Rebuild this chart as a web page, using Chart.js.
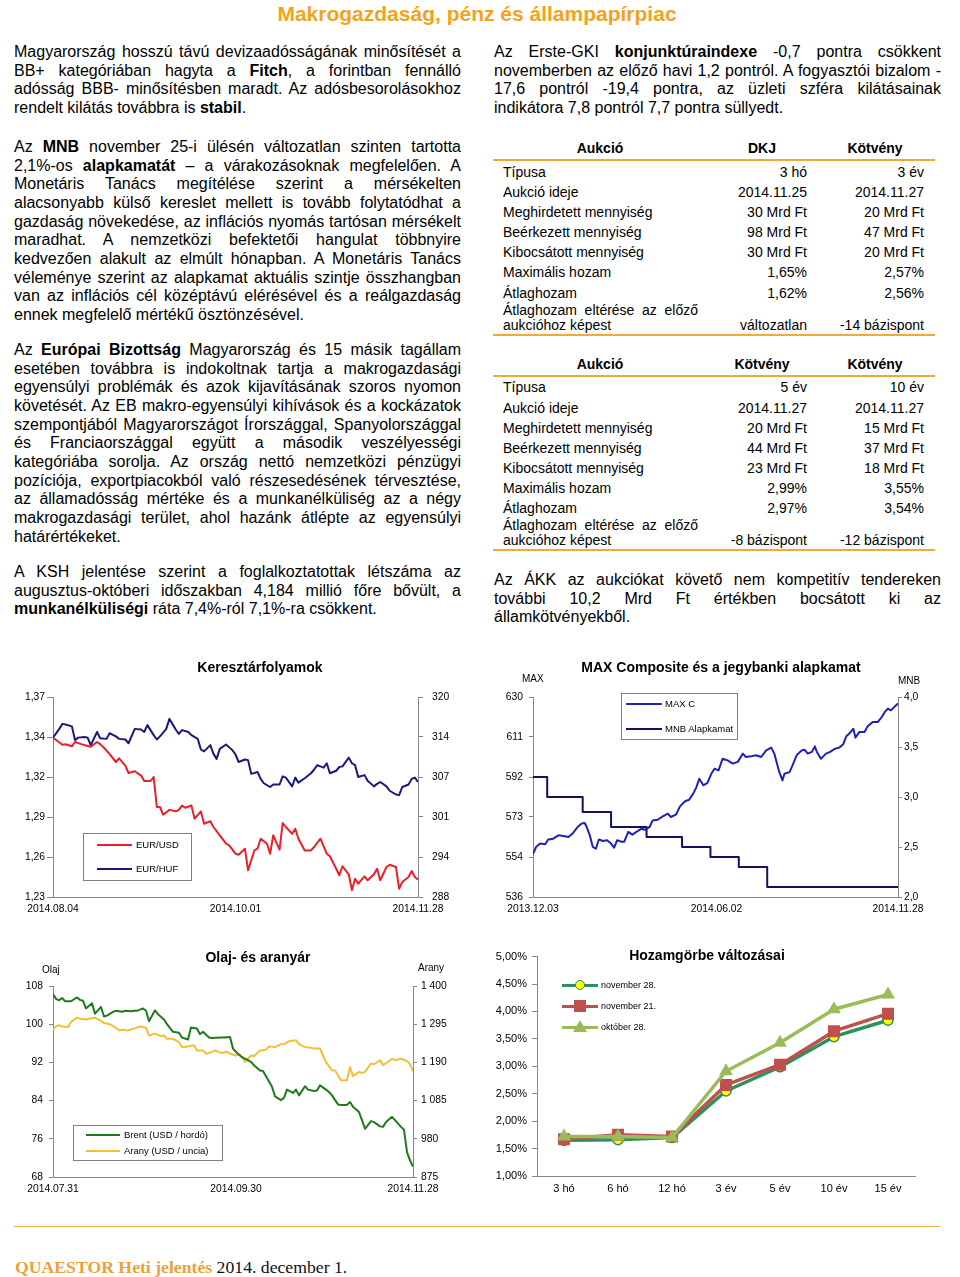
<!DOCTYPE html>
<html lang="hu">
<head>
<meta charset="utf-8">
<title>Makrogazdaság, pénz és állampapírpiac</title>
<script src="https://cdn.jsdelivr.net/npm/chart.js"></script>
<style>
  html, body { margin: 0; padding: 0; background: #fff; }
  #page { position: relative; width: 960px; height: 1277px; overflow: hidden;
          font-family: "Liberation Sans", Arial, sans-serif; color: #000; }
  .abs { position: absolute; }
  .head { left: 0; width: 954px; top: 2px; text-align: center; font-weight: bold;
          font-size: 21px; line-height: 24px; color: #f2a31b; }
  .p { position: absolute; width: 447px; font-size: 16px; line-height: 18.67px; }
  .p div { white-space: nowrap; text-align: justify; text-align-last: justify; }
  .p div.e { text-align-last: left; }
  .cell { position: absolute; font-size: 14px; line-height: 20px; white-space: nowrap; }
  .rule { position: absolute; left: 493px; width: 442px; height: 2px; background: #f1a937; }
  .ctitle { position: absolute; width: 320px; text-align: center; font-weight: bold;
            font-size: 14px; line-height: 17px; white-space: nowrap; }
  .small { position: absolute; font-size: 10px; line-height: 12px; white-space: nowrap; }
  .lbox { position: absolute; border: 1px solid #7f7f7f; box-sizing: border-box; }
  canvas { position: absolute; }
  .foot { position: absolute; left: 15px; top: 1257px; font-family: "Liberation Serif", "Times New Roman", serif;
          font-size: 17.7px; line-height: 20px; white-space: nowrap; color: #111; }
</style>
</head>
<body>
<div id="page">
  <div class="abs head">Makrogazdaság, pénz és állampapírpiac</div>

  <div class="p" style="left:14px; top:43px;">
    <div>Magyarország hosszú távú devizaadósságának minősítését a</div>
    <div>BB+ kategóriában hagyta a <b>Fitch</b>, a forintban fennálló</div>
    <div>adósság BBB- minősítésben maradt. Az adósbesorolásokhoz</div>
    <div class="e">rendelt kilátás továbbra is <b>stabil</b>.</div>
  </div>

  <div class="p" style="left:14px; top:138px;">
    <div>Az <b>MNB</b> november 25-i ülésén változatlan szinten tartotta</div>
    <div>2,1%-os <b>alapkamatát</b> – a várakozásoknak megfelelően. A</div>
    <div>Monetáris Tanács megítélése szerint a mérsékelten</div>
    <div>alacsonyabb külső kereslet mellett is tovább folytatódhat a</div>
    <div>gazdaság növekedése, az inflációs nyomás tartósan mérsékelt</div>
    <div>maradhat. A nemzetközi befektetői hangulat többnyire</div>
    <div>kedvezően alakult az elmúlt hónapban. A Monetáris Tanács</div>
    <div>véleménye szerint az alapkamat aktuális szintje összhangban</div>
    <div>van az inflációs cél középtávú elérésével és a reálgazdaság</div>
    <div class="e">ennek megfelelő mértékű ösztönzésével.</div>
  </div>

  <div class="p" style="left:14px; top:341px;">
    <div>Az <b>Európai Bizottság</b> Magyarország és 15 másik tagállam</div>
    <div>esetében továbbra is indokoltnak tartja a makrogazdasági</div>
    <div>egyensúlyi problémák és azok kijavításának szoros nyomon</div>
    <div>követését. Az EB makro-egyensúlyi kihívások és a kockázatok</div>
    <div>szempontjából Magyarországot Írországgal, Spanyolországgal</div>
    <div>és Franciaországgal együtt a második veszélyességi</div>
    <div>kategóriába sorolja. Az ország nettó nemzetközi pénzügyi</div>
    <div>pozíciója, exportpiacokból való részesedésének térvesztése,</div>
    <div>az államadósság mértéke és a munkanélküliség az a négy</div>
    <div>makrogazdasági terület, ahol hazánk átlépte az egyensúlyi</div>
    <div class="e">határértékeket.</div>
  </div>

  <div class="p" style="left:14px; top:563px;">
    <div>A KSH jelentése szerint a foglalkoztatottak létszáma az</div>
    <div>augusztus-októberi időszakban 4,184 millió főre bővült, a</div>
    <div class="e"><b>munkanélküliségi</b> ráta 7,4%-ról 7,1%-ra csökkent.</div>
  </div>

  <div class="p" style="left:494px; top:43px;">
    <div>Az Erste-GKI <b>konjunktúraindexe</b> -0,7 pontra csökkent</div>
    <div>novemberben az előző havi 1,2 pontról. A fogyasztói bizalom -</div>
    <div>17,6 pontról -19,4 pontra, az üzleti szféra kilátásainak</div>
    <div class="e">indikátora 7,8 pontról 7,7 pontra süllyedt.</div>
  </div>

  <div class="p" style="left:494px; top:571px;">
    <div>Az ÁKK az aukciókat követő nem kompetitív tendereken</div>
    <div>további 10,2 Mrd Ft értékben bocsátott ki az</div>
    <div class="e">államkötvényekből.</div>
  </div>

  <canvas id="c1" width="470" height="270" style="left:0; top:655px;"></canvas>
  <canvas id="c2" width="470" height="270" style="left:480px; top:655px;"></canvas>
  <canvas id="c3" width="470" height="260" style="left:0; top:945px;"></canvas>
  <canvas id="c4" width="470" height="260" style="left:480px; top:945px;"></canvas>

  <div class="abs" style="left:14px; top:1226px; width:926px; height:0; border-top:1.5px solid #f2b24a;"></div>
  <div class="foot"><b style="color:#e9a23b;">QUAESTOR Heti jelentés</b> 2014. december 1.</div>
</div>

<script>
// Aukciós táblák
const auction1Cols = ['Aukció', 'DKJ', 'Kötvény'];
const auction1Rows = [
    ['Típusa', '3 hó', '3 év'],
    ['Aukció ideje', '2014.11.25', '2014.11.27'],
    ['Meghirdetett mennyiség', '30 Mrd Ft', '20 Mrd Ft'],
    ['Beérkezett mennyiség', '98 Mrd Ft', '47 Mrd Ft'],
    ['Kibocsátott mennyiség', '30 Mrd Ft', '20 Mrd Ft'],
    ['Maximális hozam', '1,65%', '2,57%'],
    ['Átlaghozam', '1,62%', '2,56%'],
    ['Átlaghozam eltérése az előző|aukcióhoz képest', 'változatlan', '-14 bázispont']
];
const auction2Cols = ['Aukció', 'Kötvény', 'Kötvény'];
const auction2Rows = [
    ['Típusa', '5 év', '10 év'],
    ['Aukció ideje', '2014.11.27', '2014.11.27'],
    ['Meghirdetett mennyiség', '20 Mrd Ft', '15 Mrd Ft'],
    ['Beérkezett mennyiség', '44 Mrd Ft', '37 Mrd Ft'],
    ['Kibocsátott mennyiség', '23 Mrd Ft', '18 Mrd Ft'],
    ['Maximális hozam', '2,99%', '3,55%'],
    ['Átlaghozam', '2,97%', '3,54%'],
    ['Átlaghozam eltérése az előző|aukcióhoz képest', '-8 bázispont', '-12 bázispont']
];

// Keresztárfolyamok (napok 2014.08.04-től)
const fxTickDays = [0, 58, 116];
const fxTickLabels = ['2014.08.04', '2014.10.01', '2014.11.28'];
const usdTickValues = [1.232, 1.26, 1.288, 1.316, 1.344, 1.372];
const usdTickLabels = ['1,23', '1,26', '1,29', '1,32', '1,34', '1,37'];
const hufTickValues = [288, 294.4, 300.8, 307.2, 313.6, 320];
const hufTickLabels = ['288', '294', '301', '307', '314', '320'];
const eurUsdDays = [0,3,4,6,7,9,11,12,14,15,16,18,20,21,23,24,26,28,29,31,32,33,34,35,37,39,40,41,42,44,
    45,47,48,50,51,53,55,56,58,59,61,62,64,65,66,68,69,70,72,73,74,76,77,78,80,82,83,85,87,88,
    90,91,92,94,95,96,97,99,100,102,103,104,106,107,109,110,111,113,114,115,116];
const eurUsd = [1.3435,1.3386,1.3389,1.3375,1.3405,1.3390,1.3377,1.3372,1.3405,1.3390,
    1.3370,1.3320,1.3265,1.3290,1.3240,1.3188,1.3200,1.3170,1.3132,1.3132,
    1.3160,1.2950,1.2950,1.2896,1.2930,1.2920,1.2930,1.2960,1.2945,1.2960,
    1.2868,1.2920,1.2833,1.2850,1.2810,1.2752,1.2693,1.2682,1.2623,1.2616,
    1.2658,1.2507,1.2646,1.2658,1.2728,1.2693,1.2623,1.2752,1.2651,1.2838,
    1.2810,1.2763,1.2798,1.2728,1.2646,1.2646,1.2670,1.2728,1.2623,1.2605,
    1.2518,1.2472,1.2535,1.2479,1.2367,1.2448,1.2413,1.2465,1.2437,1.2479,
    1.2518,1.2437,1.2530,1.2546,1.2530,1.2378,1.2425,1.2460,1.2502,1.2460,1.2441];
const eurHufDays = [0,2,3,4,6,7,8,10,11,12,14,15,17,18,20,21,23,24,26,28,
    29,30,32,33,34,36,37,39,40,41,43,44,46,47,48,50,51,52,53,55,
    57,58,59,61,62,63,65,66,67,69,70,72,73,74,76,77,78,80,82,83,
    84,86,87,88,90,91,92,94,95,96,97,99,100,102,103,104,106,107,109,110,
    111,113,114,115,116];
const eurHuf = [313.5,314.9,315.7,315.6,315.3,313.1,313.5,313.6,313.5,312.3,
    314.4,313.4,313.3,314.2,313.7,313.3,313.2,312.6,314.9,314.8,
    314.4,315.5,313.9,313.2,313.7,314.9,316.5,314.8,314.1,314.7,
    314.4,313.9,313.3,311.6,311.3,312.3,310.9,310.1,311.7,312.4,
    311.5,310.8,309.6,310.0,309.9,307.7,308.0,306.9,306.2,305.6,
    306.0,306.0,307.3,307.1,305.7,307.1,306.3,307.0,307.8,308.4,
    309.1,308.7,309.4,307.8,308.2,308.8,308.9,310.3,309.4,309.1,
    307.2,307.5,306.6,305.7,306.1,306.4,305.7,305.0,304.4,304.3,
    305.6,306.0,306.9,307.1,306.4];

// MAX Composite és alapkamat (napok 2013.12.03-tól)
const maxTickDays = [0, 181, 360];
const maxTickLabels = ['2013.12.03', '2014.06.02', '2014.11.28'];
const maxTickValues = [536, 554.8, 573.6, 592.4, 611.2, 630];
const maxTickLabelsY = ['536', '554', '573', '592', '611', '630'];
const rateTickValues = [2.0, 2.5, 3.0, 3.5, 4.0];
const rateTickLabels = ['2,0', '2,5', '3,0', '3,5', '4,0'];
const maxDays = [0,3,7,12,15,20,25,30,35,39,44,48,51,53,56,59,62,65,69,73,
    77,80,83,87,90,94,98,102,107,110,115,118,123,128,133,136,141,145,150,154,
    158,161,164,168,172,176,179,183,187,192,197,202,207,210,215,220,225,230,235,238,
    242,243,246,248,253,256,260,265,268,271,275,278,280,284,289,293,298,302,306,309,
    312,316,318,322,327,330,335,340,344,347,350,353,357,360];
const maxC = [556.1,559.5,561.1,560.8,563.0,563.4,565.0,564.7,564.2,565.8,
    568.9,570.5,570.8,568.9,565.0,559.5,558.7,563.0,562.3,562.7,
    561.1,559.2,562.7,562.0,562.0,566.6,565.3,566.6,568.1,567.6,
    568.9,572.0,572.3,573.9,575.2,573.6,574.7,578.6,581.0,581.7,
    584.6,587.4,591.6,588.5,589.6,594.0,596.3,595.5,601.0,600.2,
    598.7,599.5,603.4,601.8,602.1,602.6,601.8,604.9,606.2,603.4,
    596.3,594.7,590.8,593.9,594.7,597.9,602.6,604.9,605.2,603.4,
    604.2,606.8,604.2,601.0,603.4,604.2,605.7,606.2,607.8,611.5,
    612.8,615.1,610.9,613.6,613.6,616.2,618.2,618.2,620.6,623.0,
    624.5,623.7,625.6,626.9];
const rateDays = [0, 14, 49, 77, 112, 147, 175, 203, 231, 360];
const mnbRate = [3.20, 3.00, 2.85, 2.70, 2.60, 2.50, 2.40, 2.30, 2.10, 2.10];

// Olaj- és aranyár (napok 2014.07.31-től)
const oilTickDays = [0, 61, 120];
const oilTickLabels = ['2014.07.31', '2014.09.30', '2014.11.28'];
const brentTickValues = [68, 76, 84, 92, 100, 108];
const brentTickLabels = ['68', '76', '84', '92', '100', '108'];
const goldTickValues = [875, 980, 1085, 1190, 1295, 1400];
const goldTickLabels = ['875', '980', '1 085', '1 190', '1 295', '1 400'];
const brentDays = [0,1,2,3,4,6,8,9,10,11,13,14,16,17,18,20,21,23,24,26,
    27,28,30,31,32,34,35,37,38,40,42,43,45,46,48,49,50,52,53,56,
    57,59,60,61,63,64,66,67,69,70,71,73,74,76,77,78,80,81,82,84,
    85,87,88,89,91,92,93,95,96,98,99,100,102,103,104,106,107,109,110,111,
    113,114,116,117,118,119,120];
const brent = [106.3,105.3,105.0,105.5,104.8,104.8,105.6,105.1,104.9,103.3,
    104.4,102.2,103.6,101.6,101.8,102.6,102.8,102.6,102.8,102.7,
    102.8,102.8,103.3,102.8,100.6,102.9,102.1,101.0,100.0,98.4,
    98.2,97.2,96.8,99.3,99.1,97.9,98.4,97.2,97.1,97.2,
    97.2,97.3,94.9,94.2,93.1,92.8,92.1,91.4,90.3,90.2,
    89.1,86.9,84.9,84.1,84.6,86.3,85.6,86.3,85.1,87.0,
    86.3,86.0,86.1,87.2,86.3,85.8,85.1,83.2,83.1,83.1,
    83.7,82.7,81.6,79.9,78.1,79.7,79.5,78.6,78.5,79.5,
    80.6,79.9,78.5,77.9,73.2,71.5,70.2];
const goldDays = [0,1,2,3,5,6,8,9,11,12,14,16,17,19,21,22,23,25,27,29,
    31,32,34,36,37,38,40,42,43,45,47,48,50,51,53,54,56,58,59,61,
    62,63,64,66,67,69,71,72,74,76,77,79,81,82,84,86,87,89,90,91,
    93,94,96,98,99,100,102,103,104,106,107,109,110,112,113,114,116,118,119,120];
const gold = [1280,1289,1292,1289,1287,1301,1313,1310,1308,1310,
    1313,1304,1298,1295,1285,1278,1280,1278,1283,1289,
    1285,1264,1269,1262,1264,1255,1255,1246,1232,1234,
    1237,1223,1223,1214,1219,1223,1216,1219,1214,1209,
    1212,1205,1191,1209,1207,1223,1225,1234,1232,1240,
    1240,1249,1251,1240,1232,1230,1228,1228,1209,1191,
    1168,1168,1141,1141,1177,1152,1164,1161,1164,1187,
    1185,1196,1182,1194,1200,1196,1200,1194,1185,1166];

// Hozamgörbe
const tenors = ['3 hó', '6 hó', '12 hó', '3 év', '5 év', '10 év', '15 év'];
const yieldNov28 = [1.65, 1.66, 1.70, 2.55, 2.99, 3.54, 3.84];
const yieldNov21 = [1.67, 1.75, 1.72, 2.66, 3.03, 3.64, 3.96];
const yieldOct28 = [1.72, 1.72, 1.70, 2.91, 3.43, 4.04, 4.31];
const yieldTickValues = [1.0, 1.5, 2.0, 2.5, 3.0, 3.5, 4.0, 4.5, 5.0];
const yieldTickLabels = ['1,00%', '1,50%', '2,00%', '2,50%', '3,00%', '3,50%', '4,00%', '4,50%', '5,00%'];

const AXIS = '#868686';
const page = document.getElementById('page');

function place(html, cls, css) {
    const el = document.createElement('div');
    el.className = cls;
    el.innerHTML = html;
    el.style.cssText = css;
    page.appendChild(el);
    return el;
}

// Táblázat felépítése
function buildTable(hc, cols, rows) {
    place(cols[0], 'cell', `left:550px; top:${hc - 9.8}px; width:100px; text-align:center; font-weight:bold;`);
    place(cols[1], 'cell', `left:712px; top:${hc - 9.8}px; width:100px; text-align:center; font-weight:bold;`);
    place(cols[2], 'cell', `left:825px; top:${hc - 9.8}px; width:100px; text-align:center; font-weight:bold;`);
    place('', 'rule', `top:${hc + 11}px;`);
    rows.forEach((r, i) => {
        const cy = hc + 23.7 + 20.1 * i;
        if (r[0].includes('|')) {
            const parts = r[0].split('|');
            const top = cy - 9.6;
            place(`<div style="text-align:justify;text-align-last:justify;">${parts[0]}</div><div>${parts[1]}</div>`,
                'cell', `left:503px; top:${top}px; width:195px; line-height:15px;`);
            place(r[1], 'cell', `left:707px; top:${top + 15}px; width:100px; text-align:right; line-height:15px;`);
            place(r[2], 'cell', `left:824px; top:${top + 15}px; width:100px; text-align:right; line-height:15px;`);
        } else {
            place(r[0], 'cell', `left:503px; top:${cy - 9.8}px;`);
            place(r[1], 'cell', `left:707px; top:${cy - 9.8}px; width:100px; text-align:right;`);
            place(r[2], 'cell', `left:824px; top:${cy - 9.8}px; width:100px; text-align:right;`);
        }
    });
    place('', 'rule', `top:${hc + 185.5}px;`);
}
buildTable(148, auction1Cols, auction1Rows);
buildTable(363.5, auction2Cols, auction2Rows);

// Címek és tengelyfeliratok
place('Keresztárfolyamok', 'ctitle', 'left:100px; top:658.6px;');
place('MAX Composite és a jegybanki alapkamat', 'ctitle', 'left:561px; top:658.6px;');
place('MAX', 'small', 'left:522px; top:673px;');
place('MNB', 'small', 'left:898px; top:675px;');
place('Olaj- és aranyár', 'ctitle', 'left:98px; top:948.6px;');
place('Olaj', 'small', 'left:42px; top:964px;');
place('Arany', 'small', 'left:418px; top:962px;');
place('Hozamgörbe változásai', 'ctitle', 'left:547px; top:946.6px;');

// Jelmagyarázatok
function lineLegend(box, lineX, lineW, textX, items) {
    place('', 'lbox', `left:${box[0]}px; top:${box[1]}px; width:${box[2]}px; height:${box[3]}px;`);
    items.forEach(it => {
        place('', 'abs', `left:${lineX}px; top:${it.y - 1}px; width:${lineW}px; height:2px; background:${it.color};`);
        place(it.text, 'small', `left:${textX}px; top:${it.y - 6}px; font-size:9.5px;`);
    });
}
lineLegend([83, 833, 109, 48], 97, 35, 136, [
    { text: 'EUR/USD', color: '#e8202a', y: 845 },
    { text: 'EUR/HUF', color: '#1a1a78', y: 869 }
]);
lineLegend([621, 693, 117, 47], 626, 36, 665, [
    { text: 'MAX C', color: '#2020b8', y: 704 },
    { text: 'MNB Alapkamat', color: '#12125e', y: 729 }
]);
lineLegend([73, 1125, 150, 36], 86, 34, 124, [
    { text: 'Brent (USD / hordó)', color: '#1f7a1f', y: 1135 },
    { text: 'Arany (USD / uncia)', color: '#f2c037', y: 1151 }
]);

const C_NOV28 = '#2f8f5f', C_NOV21 = '#c0504d', C_OCT28 = '#9bbb59';
[[985, 'november 28.', C_NOV28], [1006, 'november 21.', C_NOV21], [1027, 'október 28.', C_OCT28]].forEach((r, i) => {
    place('', 'abs', `left:562px; top:${r[0] - 1.5}px; width:36px; height:3px; background:${r[2]};`);
    if (i === 0) {
        place('', 'abs', `left:575px; top:${r[0] - 5}px; width:10px; height:10px; box-sizing:border-box; border-radius:50%; background:#ffff00; border:1.5px solid ${r[2]};`);
    } else if (i === 1) {
        place('', 'abs', `left:574px; top:${r[0] - 6}px; width:12px; height:12px; background:${r[2]};`);
    } else {
        place('', 'abs', `left:573px; top:${r[0] - 7}px; width:0; height:0; border-left:7px solid transparent; border-right:7px solid transparent; border-bottom:12px solid ${r[2]};`);
    }
    place(r[1], 'small', `left:601px; top:${r[0] - 5.5}px; font-size:9px; line-height:11px;`);
});

// Chart.js beállítások
Chart.defaults.font.family = '"Liberation Sans", Arial, sans-serif';
Chart.defaults.font.size = 10.3;
Chart.defaults.color = '#000';

function pts(xs, ys) {
    return xs.map((x, i) => ({ x: x, y: ys[i] }));
}

function valueAxis(pos, vals, labels, width, tickLen, pad, fontSize) {
    return {
        type: 'linear',
        position: pos,
        min: vals[0],
        max: vals[vals.length - 1],
        afterBuildTicks: s => { s.ticks = vals.map(v => ({ value: v })); },
        afterFit: s => { s.width = width; },
        ticks: { callback: (v, i) => labels[i], padding: pad, color: '#000', autoSkip: false,
                 font: { size: fontSize || 10.3 } },
        grid: { drawOnChartArea: false, drawTicks: true, tickLength: tickLen, color: AXIS },
        border: { color: AXIS }
    };
}

function dateAxis(vals, labels, height) {
    return {
        type: 'linear',
        position: 'bottom',
        min: vals[0],
        max: vals[vals.length - 1],
        afterBuildTicks: s => { s.ticks = vals.map(v => ({ value: v })); },
        afterFit: s => { s.height = height; },
        ticks: { callback: (v, i) => labels[i], padding: 6, maxRotation: 0, autoSkip: false, color: '#000' },
        grid: { drawOnChartArea: false, drawTicks: false, color: AXIS },
        border: { color: AXIS }
    };
}

function baseOptions(padding, scales) {
    return {
        responsive: false,
        animation: false,
        devicePixelRatio: 1,
        events: [],
        layout: { padding: padding },
        plugins: { legend: { display: false }, tooltip: { enabled: false } },
        elements: { point: { radius: 0 }, line: { tension: 0, borderJoinStyle: 'round' } },
        scales: scales
    };
}

function lineSet(label, data, color, axis, extra) {
    return Object.assign({ label: label, data: data, borderColor: color, backgroundColor: color,
        borderWidth: 2, yAxisID: axis, pointRadius: 0, fill: false }, extra || {});
}

// Keresztárfolyamok
new Chart(document.getElementById('c1'), {
    type: 'line',
    data: {
        datasets: [
            lineSet('EUR/USD', pts(eurUsdDays, eurUsd), '#e8202a', 'y'),
            lineSet('EUR/HUF', pts(eurHufDays, eurHuf), '#1a1a78', 'y1')
        ]
    },
    options: baseOptions({ top: 42, left: 0, right: 0, bottom: 0 }, {
        x: dateAxis(fxTickDays, fxTickLabels, 28),
        y: valueAxis('left', usdTickValues, usdTickLabels, 53, 6, 2),
        y1: valueAxis('right', hufTickValues, hufTickLabels, 52, 5, 9)
    })
});

// MAX Composite és alapkamat
new Chart(document.getElementById('c2'), {
    type: 'line',
    data: {
        datasets: [
            lineSet('MAX C', pts(maxDays, maxC), '#2020b8', 'y'),
            lineSet('MNB Alapkamat', pts(rateDays, mnbRate), '#12125e', 'y1', { stepped: 'before' })
        ]
    },
    options: baseOptions({ top: 42, left: 0, right: 0, bottom: 0 }, {
        x: dateAxis(maxTickDays, maxTickLabels, 28),
        y: valueAxis('left', maxTickValues, maxTickLabelsY, 53, 4, 6),
        y1: valueAxis('right', rateTickValues, rateTickLabels, 52, 4, 2)
    })
});

// Olaj- és aranyár
new Chart(document.getElementById('c3'), {
    type: 'line',
    data: {
        datasets: [
            lineSet('Brent (USD / hordó)', pts(brentDays, brent), '#1f7a1f', 'y'),
            lineSet('Arany (USD / uncia)', pts(goldDays, gold), '#f2c037', 'y1')
        ]
    },
    options: baseOptions({ top: 41, left: 0, right: 0, bottom: 0 }, {
        x: dateAxis(oilTickDays, oilTickLabels, 28),
        y: valueAxis('left', brentTickValues, brentTickLabels, 53, 4, 6),
        y1: valueAxis('right', goldTickValues, goldTickLabels, 57, 4, 4)
    })
});

// Hozamgörbe
new Chart(document.getElementById('c4'), {
    type: 'line',
    data: {
        labels: tenors,
        datasets: [
            lineSet('november 28.', yieldNov28, C_NOV28, 'y', {
                borderWidth: 3.5, order: 2, pointStyle: 'circle', pointRadius: 5,
                pointBackgroundColor: '#ffff00', pointBorderColor: C_NOV28, pointBorderWidth: 1.5 }),
            lineSet('november 21.', yieldNov21, C_NOV21, 'y', {
                borderWidth: 3.5, order: 1, pointStyle: 'rect', pointRadius: 8.5,
                pointBackgroundColor: C_NOV21, pointBorderColor: C_NOV21, pointBorderWidth: 0 }),
            lineSet('október 28.', yieldOct28, C_OCT28, 'y', {
                borderWidth: 3.5, order: 0, pointStyle: 'triangle', pointRadius: 8,
                pointBackgroundColor: C_OCT28, pointBorderColor: C_OCT28, pointBorderWidth: 0 })
        ]
    },
    options: baseOptions({ top: 7, left: 0, right: 35, bottom: 0 }, {
        x: {
            type: 'category',
            offset: true,
            afterFit: s => { s.height = 29; },
            ticks: { padding: 6, maxRotation: 0, autoSkip: false, color: '#000', font: { size: 11 } },
            grid: { drawOnChartArea: false, drawTicks: false, color: AXIS },
            border: { color: AXIS }
        },
        y: valueAxis('left', yieldTickValues, yieldTickLabels, 57, 5, 5, 11)
    })
});
</script>
</body>
</html>
